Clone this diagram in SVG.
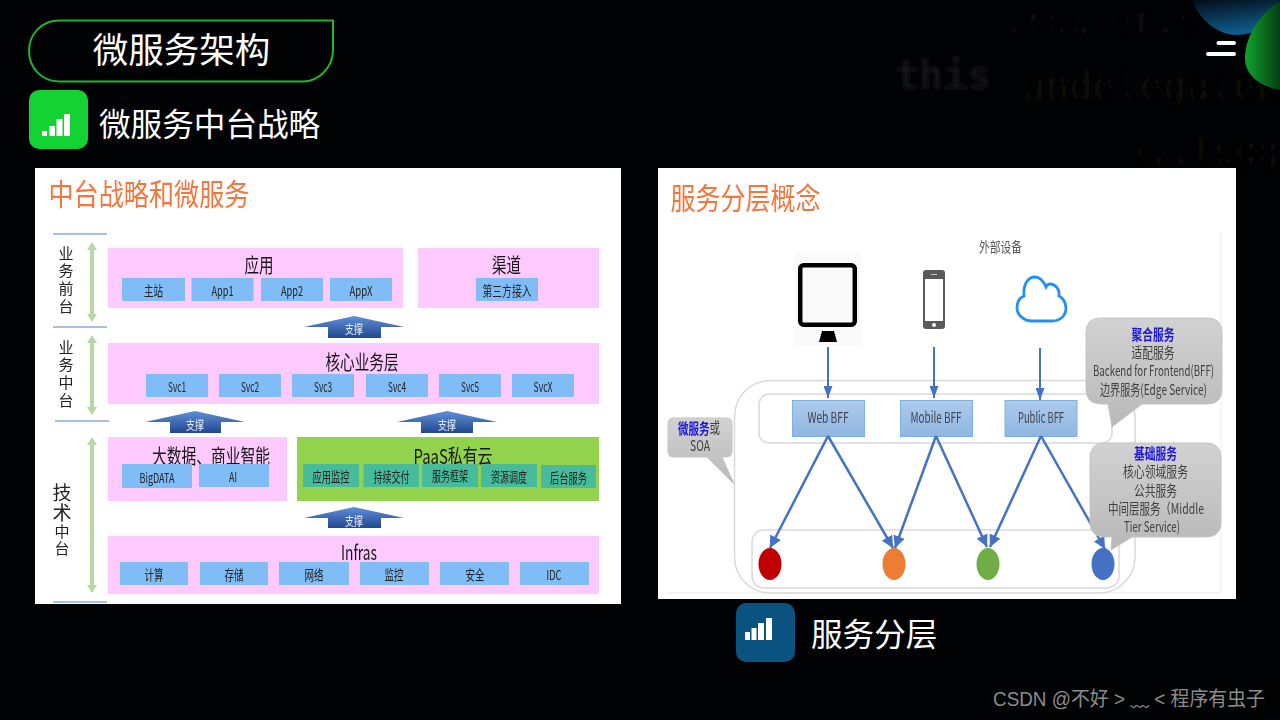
<svg xmlns="http://www.w3.org/2000/svg" width="1280" height="720" viewBox="0 0 1280 720">
<style>
text{font-family:"Noto Sans CJK SC","Noto Sans",sans-serif;text-anchor:middle;dominant-baseline:central}
.h{fill:#fff;text-anchor:start}
.t{fill:#f4763c;text-anchor:start}
.pk{fill:#ffcaff}
.ch{fill:#80bcf6}
.tl{fill:#46bc9c}
.b{fill:#161616;font-size:20px}
.c{fill:#222;font-size:13.5px}
.s{fill:#e8eef8;font-size:12px}
.v{fill:#222;font-size:15px}
.div{stroke:#8faadc;stroke-width:1.5;fill:none}
.up{fill:url(#upg)}
.dbl{fill:#b7d7a3}
.fr{fill:none;stroke:#d9d9d9;stroke-width:1.5}
.bff{fill:url(#bffg);stroke:#7db1e4;stroke-width:1}
.bt{fill:#404552;font-size:15px}
.bub{fill:url(#bubg);stroke:#c4c4c4;stroke-width:1}
.g{fill:#3f3f3f;font-size:14.5px}
.bl{fill:#1a14d8;font-size:14.5px;font-weight:700}
.ar{stroke:#4472c4;stroke-width:2;fill:none;marker-end:url(#ah2)}
.ad{stroke:#4472c4;stroke-width:2.500;fill:none;marker-end:url(#ah)}
.code{font-family:"DejaVu Sans Mono",monospace;text-anchor:start}
.up1{transform:translateY(-1.500px)}
</style>
<defs>
<marker id="ah" markerUnits="userSpaceOnUse" markerWidth="13" markerHeight="13" refX="12" refY="6" orient="auto"><path d="M0,0L12,6L0,12Z" fill="#4472c4"/></marker>
<marker id="ah2" markerUnits="userSpaceOnUse" markerWidth="13" markerHeight="9" refX="12" refY="4.500" orient="auto"><path d="M0,0L12,4.500L0,9Z" fill="#4472c4"/></marker>
<linearGradient id="upg" x1="0" y1="0" x2="0" y2="1"><stop offset="0" stop-color="#5f8fd8"/><stop offset="1" stop-color="#23488f"/></linearGradient>
<linearGradient id="bffg" x1="0" y1="0" x2="0" y2="1"><stop offset="0" stop-color="#aecbea"/><stop offset="1" stop-color="#8fb6e2"/></linearGradient>
<linearGradient id="bubg" x1="0" y1="0" x2="0" y2="1"><stop offset="0" stop-color="#d2d2d2"/><stop offset="1" stop-color="#b8b8b8"/></linearGradient>
<linearGradient id="grn" x1="0" y1="0" x2="1" y2="0"><stop offset="0" stop-color="#10a52c"/><stop offset="1" stop-color="#063d14"/></linearGradient>
<linearGradient id="blu" x1="0" y1="0" x2="0.300" y2="1"><stop offset="0" stop-color="#020d16"/><stop offset="1" stop-color="#0e5c8c"/></linearGradient>
<filter id="soft" x="-5%" y="-5%" width="110%" height="110%"><feGaussianBlur stdDeviation="0.35"/></filter>
<filter id="blur3" x="-5%" y="-20%" width="110%" height="140%"><feGaussianBlur stdDeviation="2"/></filter>
</defs>

<rect id="background" width="1280" height="720" fill="#010204"/>
<g id="code-backdrop" filter="url(#blur3)">
<text class="code" x="1003" y="20" font-size="36" fill="#0c0c0c">.router.s</text>
<text class="code" x="895" y="75" font-size="40" fill="#141414" font-weight="700">this</text>
<text class="code" x="1022" y="85" font-size="39" fill="#0f0f09">undelegateE</text>
<text class="code" x="1105" y="150" font-size="36" fill="#0d0d08">"),.togg</text>
</g>
<path id="corner-blue" d="M1192,0H1280V12C1272,28 1250,35 1236,35C1215,34 1199,18 1192,0Z" fill="url(#blu)"/>
<path id="corner-green" d="M1280,1C1258,15 1245,38 1245,58C1245,74 1258,86 1280,90Z" fill="url(#grn)"/>
<g id="menu-icon" fill="#fff"><rect x="1216.500" y="41" width="19.500" height="4" rx="2"/><rect x="1206" y="52" width="30" height="4" rx="2"/></g>

<g id="slide-title">
<path d="M59,20.500H333V50C333,68 318,81.500 303,81.500H59C42,81.500 29,68 29,51C29,34 42,20.500 59,20.500Z" fill="none" stroke="#1fb52c" stroke-width="2"/>
<text x="181.500" y="47" fill="#fff" font-size="35.500">微服务架构</text>
</g>
<g id="heading-left">
<rect x="29" y="90" width="59" height="59" rx="10" fill="#14d232"/>
<g fill="#fff"><rect x="42" y="131" width="5" height="5"/><rect x="49.500" y="126" width="5.500" height="10"/><rect x="56.500" y="119" width="6" height="17"/><rect x="64" y="114" width="6" height="22"/></g>
<text class="h" x="99" y="122" font-size="31.600">微服务中台战略</text>
</g>
<g id="heading-right">
<rect x="736" y="603" width="59" height="59" rx="10" fill="#0a5280"/>
<g fill="#fff"><rect x="745" y="632" width="5" height="8"/><rect x="751.500" y="628" width="5" height="12"/><rect x="758" y="623" width="6" height="17"/><rect x="766" y="618" width="6" height="22"/></g>
<text class="h" x="811" y="632" font-size="31.600">服务分层</text>
</g>

<g id="left-slide" filter="url(#soft)">
<rect x="35" y="168" width="586" height="436" fill="#fff"/>
<text class="t" x="48.500" y="192" font-size="30" textLength="201" lengthAdjust="spacingAndGlyphs">中台战略和微服务</text>
<g id="dividers"><path class="div" d="M53,234H107M53,327H107M55,421H109M53,602H107"/></g>
<g id="side-arrows">
<path class="dbl" d="M92,242L97,250H94V314H97L92,322L87,314H90V250H87Z"/>
<path class="dbl" d="M92,335L97,343H94V407H97L92,415L87,407H90V343H87Z"/>
<path class="dbl" d="M92,437L97,445H94V585H97L92,593L87,585H90V445H87Z"/>
</g>
<text id="label-front" class="v" x="66" y="281" style="writing-mode:vertical-rl" letter-spacing="2.700">业务前台</text>
<text id="label-mid" class="v" x="66" y="375" style="writing-mode:vertical-rl" letter-spacing="2.700">业务中台</text>
<text id="label-tech" class="v" x="62" y="520" style="writing-mode:vertical-rl" letter-spacing="1.500"><tspan font-size="19">技术</tspan><tspan>中台</tspan></text>

<g class="up1">
<g id="node-app"><rect class="pk" x="108" y="249.500" width="295" height="60"/><text class="b" x="259" y="265.500" textLength="29" lengthAdjust="spacingAndGlyphs">应用</text>
<rect class="ch" x="122" y="279.500" width="63" height="23"/><text class="c" x="153.500" y="291.500" textLength="19" lengthAdjust="spacingAndGlyphs">主站</text>
<rect class="ch" x="191.500" y="279.500" width="62" height="23"/><text class="c" x="222.500" y="291.500" textLength="22" lengthAdjust="spacingAndGlyphs">App1</text>
<rect class="ch" x="261" y="279.500" width="62" height="23"/><text class="c" x="292" y="291.500" textLength="22" lengthAdjust="spacingAndGlyphs">App2</text>
<rect class="ch" x="330" y="279.500" width="62" height="23"/><text class="c" x="361" y="291.500" textLength="23" lengthAdjust="spacingAndGlyphs">AppX</text></g>
<g id="node-channel"><rect class="pk" x="418" y="249.500" width="181" height="60"/><text class="b" x="506.500" y="265.500" textLength="29" lengthAdjust="spacingAndGlyphs">渠道</text>
<rect class="ch" x="476" y="279.500" width="62" height="23"/><text class="c" x="507" y="291.500" textLength="49" lengthAdjust="spacingAndGlyphs">第三方接入</text></g>
<g id="node-core"><rect class="pk" x="108" y="344.500" width="491" height="61"/><text class="b" x="362" y="362.500" textLength="73" lengthAdjust="spacingAndGlyphs">核心业务层</text>
<rect class="ch" x="146" y="375.500" width="62" height="23"/><text class="c" x="177" y="387.500" textLength="18" lengthAdjust="spacingAndGlyphs">Svc1</text>
<rect class="ch" x="219" y="375.500" width="62" height="23"/><text class="c" x="250" y="387.500" textLength="18" lengthAdjust="spacingAndGlyphs">Svc2</text>
<rect class="ch" x="292" y="375.500" width="62" height="23"/><text class="c" x="323" y="387.500" textLength="18" lengthAdjust="spacingAndGlyphs">Svc3</text>
<rect class="ch" x="366" y="375.500" width="62" height="23"/><text class="c" x="397" y="387.500" textLength="18" lengthAdjust="spacingAndGlyphs">Svc4</text>
<rect class="ch" x="439" y="375.500" width="62" height="23"/><text class="c" x="470" y="387.500" textLength="18" lengthAdjust="spacingAndGlyphs">Svc5</text>
<rect class="ch" x="512" y="375.500" width="62" height="23"/><text class="c" x="543" y="387.500" textLength="19" lengthAdjust="spacingAndGlyphs">SvcX</text></g>
<g id="node-bigdata"><rect class="pk" x="108" y="438.500" width="179" height="64"/><text class="b" x="211" y="456.500" textLength="118" lengthAdjust="spacingAndGlyphs">大数据、商业智能</text>
<rect class="ch" x="122" y="465.500" width="70" height="24"/><text class="c" x="157" y="478.500" textLength="35" lengthAdjust="spacingAndGlyphs">BigDATA</text>
<rect class="ch" x="199" y="465.500" width="70" height="23"/><text class="c" x="233" y="477.500" textLength="8" lengthAdjust="spacingAndGlyphs">AI</text></g>
<g id="node-paas"><rect x="297" y="438.500" width="302" height="64" fill="#92d24e"/><text class="b" x="453" y="457" textLength="79" lengthAdjust="spacingAndGlyphs">PaaS私有云</text>
<rect class="tl" x="303" y="465.500" width="56" height="23"/><text class="c" x="331" y="477.500" textLength="37" lengthAdjust="spacingAndGlyphs">应用监控</text>
<rect class="tl" x="363.500" y="465.500" width="55.500" height="23"/><text class="c" x="391.500" y="477.500" textLength="36" lengthAdjust="spacingAndGlyphs">持续交付</text>
<rect class="tl" x="422" y="465.500" width="56" height="23"/><text class="c" x="450" y="476.500" textLength="36" lengthAdjust="spacingAndGlyphs">服务框架</text>
<rect class="tl" x="481" y="465.500" width="56" height="23"/><text class="c" x="509" y="477.500" textLength="36" lengthAdjust="spacingAndGlyphs">资源调度</text>
<rect class="tl" x="541" y="466.500" width="55" height="23"/><text class="c" x="568.500" y="478.500" textLength="37" lengthAdjust="spacingAndGlyphs">后台服务</text></g>
<g id="node-infras"><rect class="pk" x="108" y="537.500" width="491" height="58"/><text class="b" x="359" y="552.500" textLength="36" lengthAdjust="spacingAndGlyphs">Infras</text>
<rect class="ch" x="120" y="563.500" width="68" height="23"/><text class="c" x="154" y="575.500" textLength="19" lengthAdjust="spacingAndGlyphs">计算</text>
<rect class="ch" x="200" y="563.500" width="68" height="23"/><text class="c" x="234" y="575.500" textLength="19" lengthAdjust="spacingAndGlyphs">存储</text>
<rect class="ch" x="279" y="563.500" width="70" height="23"/><text class="c" x="314" y="575.500" textLength="19" lengthAdjust="spacingAndGlyphs">网络</text>
<rect class="ch" x="360" y="563.500" width="69" height="23"/><text class="c" x="394" y="575.500" textLength="19" lengthAdjust="spacingAndGlyphs">监控</text>
<rect class="ch" x="440" y="563.500" width="69" height="23"/><text class="c" x="475" y="575.500" textLength="19" lengthAdjust="spacingAndGlyphs">安全</text>
<rect class="ch" x="520" y="563.500" width="69" height="23"/><text class="c" x="554" y="575.500" textLength="15" lengthAdjust="spacingAndGlyphs">IDC</text></g>
<g id="support-arrows">
<path class="up" d="M354,317.500L404,328.500H381V339.500H328V328.500H304Z"/><text class="s" x="354" y="330" textLength="18" lengthAdjust="spacingAndGlyphs">支撑</text>
<path class="up" d="M195,412.500L245,423.500H221V434.500H170V423.500H145Z"/><text class="s" x="195" y="426" textLength="18" lengthAdjust="spacingAndGlyphs">支撑</text>
<path class="up" d="M447,412.500L497,423.500H473V434.500H421V423.500H397Z"/><text class="s" x="447" y="426" textLength="18" lengthAdjust="spacingAndGlyphs">支撑</text>
<path class="up" d="M354,508.500L404,519.500H381V529.500H328V519.500H304Z"/><text class="s" x="354" y="522" textLength="18" lengthAdjust="spacingAndGlyphs">支撑</text>
</g>
</g>
</g>

<g id="right-slide" filter="url(#soft)">
<rect x="658" y="168" width="578" height="431" fill="#fff"/>
<text class="t" x="670.500" y="196" font-size="30" textLength="150" lengthAdjust="spacingAndGlyphs">服务分层概念</text>
<path d="M668,593H1221V232" fill="none" stroke="#ededed" stroke-width="1"/>
<text x="1000.500" y="245.500" font-size="13.500" fill="#555" textLength="43" lengthAdjust="spacingAndGlyphs">外部设备</text>
<g id="device-tablet"><rect x="795" y="253" width="66" height="93" fill="#fafafa"/><rect x="800.200" y="265.200" width="54.600" height="59.600" rx="3.500" fill="#fafafa" stroke="#000" stroke-width="4.500"/><path d="M822,331H834L837,342H819Z" fill="#000"/></g>
<g id="device-phone"><rect x="923" y="270" width="22" height="59" rx="3" fill="#5a5a5a"/><rect x="925" y="279" width="18" height="42" fill="#fff"/><circle cx="934" cy="325" r="2" fill="#fff"/><rect x="931" y="274" width="6" height="1" fill="#ccc"/></g>
<g id="device-cloud"><path d="M1032,321H1052C1061,321 1066,315 1066,308C1066,302 1062,297 1059,296C1060,289 1055,284 1050,284C1048,284 1047,285 1046,287C1043,280 1039,277 1035,277C1028,277 1023,284 1024,296C1019,298 1017,303 1017,308C1017,315 1024,321 1032,321Z" fill="#fff" stroke="#2090f5" stroke-width="2.800"/></g>
<g id="frames">
<rect class="fr" x="734.500" y="380.500" width="400.500" height="212.500" rx="36"/>
<rect class="fr" x="759" y="394" width="353" height="49" rx="10"/>
<rect class="fr" x="752" y="530" width="367" height="58" rx="12"/>
</g>
<g id="node-web-bff"><rect class="bff" x="792.500" y="400.500" width="72" height="36"/><text class="bt" x="828" y="416.500" textLength="41" lengthAdjust="spacingAndGlyphs">Web BFF</text></g>
<g id="node-mobile-bff"><rect class="bff" x="900.500" y="400.500" width="72" height="36"/><text class="bt" x="936" y="416.500" textLength="51" lengthAdjust="spacingAndGlyphs">Mobile BFF</text></g>
<g id="node-public-bff"><rect class="bff" x="1005" y="400.500" width="72" height="36"/><text class="bt" x="1041" y="416.500" textLength="46" lengthAdjust="spacingAndGlyphs">Public BFF</text></g>
<g id="node-red"><ellipse cx="770" cy="564" rx="11.500" ry="16" fill="#c00000"/></g>
<g id="node-orange"><ellipse cx="894" cy="564" rx="11.500" ry="16" fill="#ed7d31"/></g>
<g id="node-green"><ellipse cx="988" cy="564" rx="11.500" ry="16" fill="#70ad47"/></g>
<g id="node-blue"><ellipse cx="1103" cy="564" rx="11.500" ry="16" fill="#4472c4"/></g>
<g id="connectors">
<path class="ar" d="M828,347V398"/><path class="ar" d="M934,347V398"/><path class="ar" d="M1040,348V400"/>
<path class="ad" d="M828,436L770,548"/><path class="ad" d="M828,436L893,548"/>
<path class="ad" d="M936,436L895,548"/><path class="ad" d="M936,436L987,547"/>
<path class="ad" d="M1041,436L990,547"/><path class="ad" d="M1041,436L1105,549"/>
</g>
<g id="callout-aggregate"><path class="bub" d="M1101,318H1207Q1222,318 1222,333V389Q1222,404 1207,404H1142L1112,427L1108,404H1101Q1086,404 1086,389V333Q1086,318 1101,318Z"/>
<text class="bl" x="1153" y="333.500" textLength="43" lengthAdjust="spacingAndGlyphs">聚合服务</text><text class="g" x="1153" y="351.500" textLength="43" lengthAdjust="spacingAndGlyphs">适配服务</text><text class="g" x="1153.500" y="369.500" textLength="121" lengthAdjust="spacingAndGlyphs">Backend for Frontend(BFF)</text><text class="g" x="1153.500" y="388.500" textLength="107" lengthAdjust="spacingAndGlyphs">边界服务(Edge Service)</text></g>
<g id="callout-base"><path class="bub" d="M1105,443H1206Q1221,443 1221,458V522Q1221,537 1206,537H1132L1111,550L1112,537H1105Q1090,537 1090,522V458Q1090,443 1105,443Z"/>
<text class="bl" x="1155.500" y="452.500" textLength="43" lengthAdjust="spacingAndGlyphs">基础服务</text><text class="g" x="1155.500" y="470.500" textLength="65" lengthAdjust="spacingAndGlyphs">核心领域服务</text><text class="g" x="1155.500" y="489.500" textLength="43" lengthAdjust="spacingAndGlyphs">公共服务</text><text class="g" x="1156" y="507.500" textLength="96" lengthAdjust="spacingAndGlyphs">中间层服务（Middle</text><text class="g" x="1152" y="525.500" textLength="56" lengthAdjust="spacingAndGlyphs">Tier Service)</text></g>
<g id="callout-soa"><path class="bub" d="M674,418H726Q732,418 732,424V451Q732,457 726,457H722L734,484L707,457H674Q668,457 668,451V424Q668,418 674,418Z"/>
<text class="g" x="699" y="426.500" textLength="42" lengthAdjust="spacingAndGlyphs"><tspan class="bl">微服务</tspan>或</text><text class="g" x="700" y="444.500" textLength="20" lengthAdjust="spacingAndGlyphs">SOA</text></g>
</g>

<text id="watermark" x="1129" y="699" font-size="20" fill="#8c8c8c" style="font-family:'Liberation Sans','Noto Sans CJK SC',sans-serif" textLength="272" lengthAdjust="spacingAndGlyphs">CSDN @不好 &gt; ﹏ &lt; 程序有虫子</text>
</svg>
